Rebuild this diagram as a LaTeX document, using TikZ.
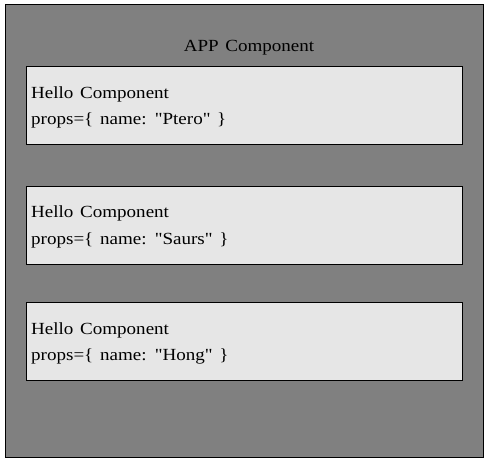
\documentclass[tikz,border=0pt]{standalone}
\usepackage{fontspec}
\setmainfont{Liberation Serif}[Ligatures=TeXOff, FakeStretch=1.12, WordSpace=1.4]
\begin{document}
\begin{tikzpicture}[x=1pt,y=-1pt,
  outerbox/.style={draw=black, fill={rgb,255:red,128;green,128;blue,128}, line width=1pt},
  innerbox/.style={draw=black, fill={rgb,255:red,230;green,230;blue,230}, line width=1pt},
  txt/.style={anchor=base west, inner sep=0pt, font=\fontsize{17}{20}\selectfont}]
\useasboundingbox (0,0) rectangle (488,461);
\fill[white] (0,0) rectangle (488,461);
\draw[outerbox] (5,4) rectangle (483,457);
\node[anchor=base, inner sep=0pt, font=\fontsize{17}{20}\selectfont] (title) at (249,51) {APP Component};
\draw[innerbox] (26,66) rectangle (462,144);
\draw[innerbox] (26,186) rectangle (462,264);
\draw[innerbox] (26,302) rectangle (462,380);
\node[txt] (h1) at (31,98) {Hello Component};
\node[txt] (p1) at (31,124) {props=\{ name: "Ptero" \}};
\node[txt] (h2) at (31,217) {Hello Component};
\node[txt] (p2) at (31,244) {props=\{ name: "Saurs" \}};
\node[txt] (h3) at (31,334) {Hello Component};
\node[txt] (p3) at (31,360) {props=\{ name: "Hong" \}};
\end{tikzpicture}
\end{document}
